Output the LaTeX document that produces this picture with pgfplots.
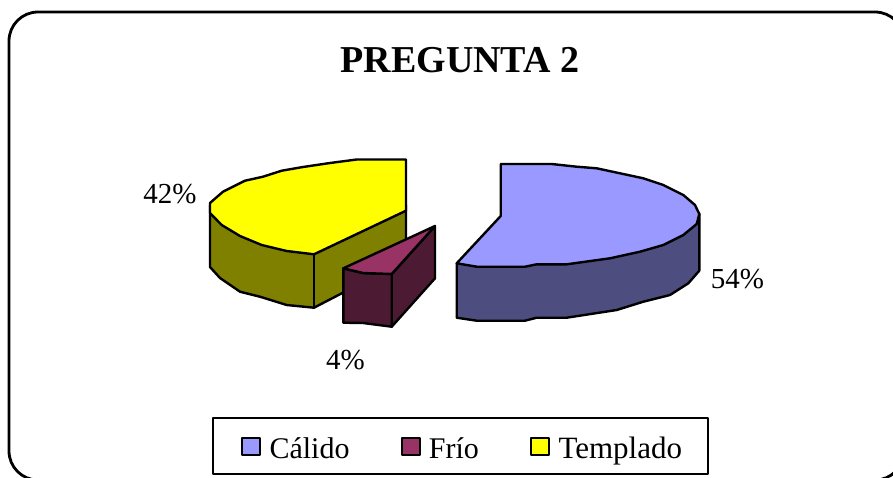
\documentclass[border=0pt]{standalone}
\usepackage{pgfplots}
\pgfplotsset{compat=1.18}
\usepackage{fontspec}
\setmainfont{Liberation Serif}
\definecolor{calido}{HTML}{9999FF}
\definecolor{calidos}{HTML}{4D4D80}
\definecolor{frio}{HTML}{993366}
\definecolor{frios}{HTML}{4D1A33}
\definecolor{templado}{HTML}{FFFF00}
\definecolor{templados}{HTML}{808000}
\begin{document}
\begin{tikzpicture}
\useasboundingbox (0,0) rectangle (893pt,477pt);
\begin{axis}[
  at={(0,0)}, anchor=south west,
  scale only axis, width=893pt, height=477pt,
  xmin=0, xmax=893, ymin=0, ymax=477, y dir=reverse,
  hide axis, clip=true,
  every axis plot/.append style={line width=2.4pt, line join=round, mark=none},
]
% frame
\addplot[draw=black, line width=2.8pt, rounded corners=29pt] coordinates {(9,12) (904,12) (904,480) (9,480)} --cycle;
% Templado
\addplot[fill=templados, draw=black] coordinates {(210,205) (210,267) (220,278) (240,291.7) (260,296.7) (286.7,305) (314,307.7) (406,260) (406,205)} --cycle;
\addplot[draw=black] coordinates {(314,254.3) (314,307.7)};
\addplot[fill=templado, draw=black] coordinates {(406,159.5) (356.7,159.5) (330,163) (303,167) (281.7,170.7) (263,176.7) (245,180.7) (223,191.7) (210,203) (210,213) (221.7,225) (240,236) (261.7,245) (286.7,251) (314,254.3) (406,210.7)} --cycle;
% Frio
\addplot[fill=frios, draw=black] coordinates {(391.7,274) (435,226) (435,278.3) (391.7,326.7)} --cycle;
\addplot[fill=frios, draw=black] coordinates {(343.3,268.3) (363,273) (391.7,274) (391.7,326.7) (363,323) (343.3,322.7)} --cycle;
\addplot[fill=frio, draw=black] coordinates {(435,226) (343.3,268.3) (363,273) (391.7,274)} --cycle;
% Calido
\addplot[fill=calidos, draw=black] coordinates {(699.3,214) (699.3,270.7) (688.3,283.3) (670,295) (643.3,301.7) (616.7,310) (566.7,317.7) (536.7,317.7) (525,320.7) (476.7,320.7) (456.7,317.7) (456.7,263.3)} --cycle;
\addplot[fill=calido, draw=black] coordinates {(500.7,164) (551.7,164) (576.7,166.7) (596.7,168.3) (620,173.3) (643.3,178.3) (663.3,185) (683.3,195) (695,205) (699.3,214) (696.7,224) (683.3,235) (663.3,245) (640,251.7) (610,258.3) (566.7,264.3) (536.7,264.3) (525,266.7) (476.7,266.7) (456.7,263.3) (500.7,216)} --cycle;
% legend
\addplot[fill=white, draw=black, line width=2.2pt] coordinates {(212.7,418.3) (708.3,418.3) (708.3,474.3) (212.7,474.3)} --cycle;
\addplot[fill=calido, draw=black, line width=2.2pt] coordinates {(242,438) (260,438) (260,455) (242,455)} --cycle;
\addplot[fill=frio, draw=black, line width=2.2pt] coordinates {(402,438) (420,438) (420,455) (402,455)} --cycle;
\addplot[fill=templado, draw=black, line width=2.2pt] coordinates {(531,438) (549,438) (549,455) (531,455)} --cycle;
\node[anchor=base west, inner sep=0pt, font=\fontsize{30}{32}\selectfont] at (axis cs:269.3,458) {Cálido};
\node[anchor=base west, inner sep=0pt, font=\fontsize{30}{32}\selectfont] at (axis cs:428.7,458) {Frío};
\node[anchor=base west, inner sep=0pt, font=\fontsize{31}{33}\selectfont] at (axis cs:558.3,458) {Templado};
% labels
\node[anchor=base, inner sep=0pt, font=\fontsize{29}{32}\selectfont] at (axis cs:170,203) {42\%};
\node[anchor=base, inner sep=0pt, font=\fontsize{29}{32}\selectfont] at (axis cs:737.5,288) {54\%};
\node[anchor=base, inner sep=0pt, font=\fontsize{29}{32}\selectfont] at (axis cs:345.5,369) {4\%};
\node[anchor=base, inner sep=0pt, font=\fontsize{38}{42}\selectfont\bfseries] at (axis cs:460,72) {PREGUNTA 2};
\end{axis}
\end{tikzpicture}
\end{document}
